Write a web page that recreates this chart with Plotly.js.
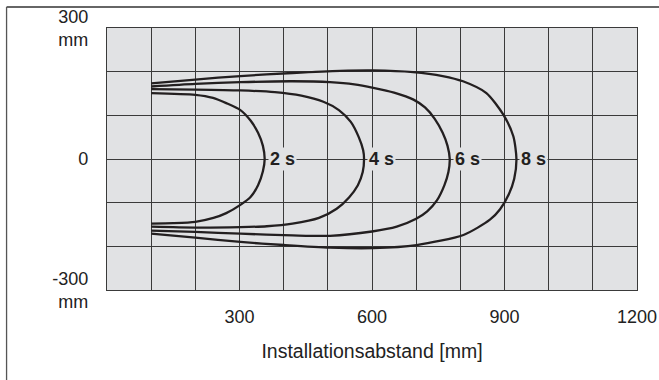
<!DOCTYPE html>
<html>
<head>
<meta charset="utf-8">
<script src="https://cdn.plot.ly/plotly-3.0.1.min.js"></script>
<style>
  html, body { margin: 0; padding: 0; background: #ffffff; }
  #chart { width: 659px; height: 380px; }
</style>
</head>
<body>
<div id="chart"></div>
<script>
// ---- data ----
const curveLabels = ['2 s', '4 s', '6 s', '8 s'];

const x2s = [100, 200, 240, 270, 302, 325, 342, 353, 357, 353, 342, 325, 302, 270, 241, 200, 150, 100];
const y2s = [151, 147, 140, 128, 112, 88, 60, 30, 0, -28, -60, -87, -105, -124, -135, -144, -147, -148];

const x4s = [100, 200, 302, 380, 440, 490, 525, 552, 570, 580, 582, 579, 568, 548, 520, 480, 420, 362, 302, 200, 100];
const y4s = [160, 159, 157, 153, 145, 131, 112, 85, 50, 20, 0, -30, -60, -88, -114, -135, -148, -154, -156, -157, -155];

const x6s = [100, 200, 302, 420, 505, 560, 603, 650, 694, 720, 742, 760, 771, 776, 773, 764, 747, 725, 700, 656, 600, 505, 420, 302, 200, 100];
const y6s = [166, 172, 176, 178, 176, 171, 163, 152, 136, 118, 92, 60, 30, 0, -30, -60, -95, -120, -137, -155, -166, -176, -175, -171, -167, -164];

const x8s = [100, 200, 302, 420, 528, 603, 693, 760, 806, 859, 897, 920, 927, 922, 910, 890, 867, 807, 701, 603, 505, 400, 302, 200, 100];
const y8s = [173, 182, 190, 197, 202, 203, 199, 190, 178, 151, 102, 52, 0, -45, -80, -115, -139, -174, -197, -204, -203, -197, -190, -180, -171];

const xTickVals = [0, 100, 200, 300, 400, 500, 600, 700, 800, 900, 1000, 1100, 1200];
const xTickText = ['', '', '', '300', '', '', '600', '', '', '900', '', '', '1200'];
const yTickVals = [-300, -200, -100, 0, 100, 200, 300];
const yTickText = ['-300<br>\u00a0mm', '', '', '0', '', '', '300<br>mm'];

const xTitle = 'Installationsabstand [mm]';

// ---- chart ----
const curvesX = [x2s, x4s, x6s, x8s];
const curvesY = [y2s, y4s, y6s, y8s];

const ink = '#231f20';
const plotBg = '#e1e2e4';
const gridCol = '#3a3a3a';
const font = 'Liberation Sans, Arial, Helvetica, sans-serif';

const traces = curvesX.map((xs, i) => ({
  type: 'scatter',
  mode: 'lines',
  x: xs,
  y: curvesY[i],
  name: curveLabels[i],
  line: { color: ink, width: 2.3, shape: 'spline', smoothing: 0.7 },
  hoverinfo: 'skip'
}));

const annotations = curvesX.map((xs, i) => ({
  x: Math.max(...xs),
  y: 0,
  xref: 'x',
  yref: 'y',
  text: curveLabels[i],
  showarrow: false,
  xanchor: 'left',
  yanchor: 'middle',
  xshift: 3,
  bgcolor: plotBg,
  borderpad: 1,
  font: { family: font, size: 18, color: ink, weight: 'bold' }
}));

const layout = {
  width: 659,
  height: 380,
  margin: { l: 106.7, r: 22.3, t: 28.3, b: 90 },
  paper_bgcolor: '#ffffff',
  plot_bgcolor: plotBg,
  showlegend: false,
  font: { family: font, size: 18, color: '#222222' },
  xaxis: {
    range: [0, 1200],
    tickmode: 'array',
    tickvals: xTickVals,
    ticktext: xTickText,
    showgrid: true,
    gridcolor: gridCol,
    gridwidth: 1,
    zeroline: false,
    showline: true,
    linecolor: gridCol,
    linewidth: 1.2,
    mirror: true,
    ticks: '',
    ticklabelstandoff: 10,
    tickfont: { family: font, size: 18, color: '#222222' },
    title: { text: xTitle, standoff: 18, font: { family: font, size: 19.5, color: '#222222' } },
    fixedrange: true
  },
  yaxis: {
    range: [-300, 300],
    tickmode: 'array',
    tickvals: yTickVals,
    ticktext: yTickText,
    showgrid: true,
    gridcolor: gridCol,
    gridwidth: 1,
    zeroline: false,
    showline: true,
    linecolor: gridCol,
    linewidth: 1.2,
    mirror: true,
    ticks: '',
    ticklabelstandoff: 14,
    tickfont: { family: font, size: 18, color: '#222222' },
    fixedrange: true
  },
  annotations: annotations,
  shapes: [
    { type: 'line', xref: 'paper', yref: 'paper', x0: -0.1895, x1: 1.05, y0: 1.08, y1: 1.08,
      line: { color: '#333333', width: 1.5 }, layer: 'above' },
    { type: 'line', xref: 'paper', yref: 'paper', x0: -0.1895, x1: -0.1895, y0: 1.08, y1: -0.4,
      line: { color: '#555555', width: 1.3 }, layer: 'above' }
  ]
};

Plotly.newPlot('chart', traces, layout, { staticPlot: true, displayModeBar: false });
</script>
</body>
</html>
